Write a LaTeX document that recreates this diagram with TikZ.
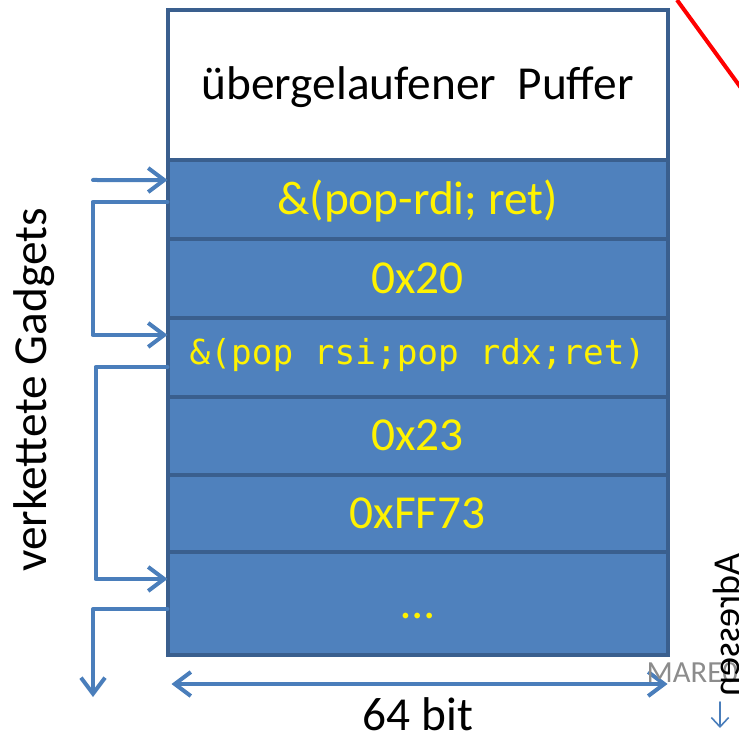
\documentclass[tikz,border=0pt]{standalone}
\usepackage{fontspec}
\setmainfont{Carlito}
\newfontfamily\monofont{DejaVu Sans Mono}
\usetikzlibrary{positioning,arrows.meta}

\definecolor{cellblue}{HTML}{4F81BD}
\definecolor{cellline}{HTML}{3A5F8E}
\definecolor{linkblue}{HTML}{4A7EBB}
\definecolor{markgray}{HTML}{8C8C8C}

\tikzset{
  cell/.style={draw=cellline, fill=cellblue, line width=3pt, outer sep=0pt,
    inner sep=0pt, minimum width=375pt, text=yellow,
    text height=26.5pt, text depth=4.5pt,
    font=\fontsize{35.5}{42}\selectfont},
  link/.style={draw=linkblue, line width=3pt, line cap=round, line join=round,
    -{Straight Barb[length=12pt,width=18pt]}},
  bigtext/.style={font=\fontsize{35.5}{42}\selectfont},
}

\begin{document}
\begin{tikzpicture}[x=0.75pt,y=-0.75pt]
  \useasboundingbox (0,0) rectangle (739,734);
  \clip (0,0) rectangle (739,734);

  % stack
  \node[cell, fill=white, text=black, minimum height=112.5pt] (puffer) at (417.5,85) {übergelaufener\ \ Puffer};
  \node[cell, minimum height=59.25pt, below=0pt of puffer] (rdi) {\&(pop-rdi; ret)};
  \node[cell, minimum height=59.25pt, below=0pt of rdi] (n20) {0x20};
  \node[cell, minimum height=59.25pt, below=0pt of n20, text height=17pt, text depth=5.8pt,
    font=\monofont\fontsize{25.8}{30}\selectfont] (rsi) {\&(pop rsi;pop rdx;ret)};
  \node[cell, minimum height=58.5pt, below=0pt of rsi] (n23) {0x23};
  \node[cell, minimum height=57.75pt, below=0pt of n23] (nff) {0xFF73};
  \node[cell, minimum height=77.25pt, below=0pt of nff] (dots) {\dots};

  % gadget chain
  \coordinate (start) at (93,180);
  \coordinate (end) at (93,697);
  \draw[link] (start) -- ([yshift=14.6pt]rdi.west);
  \draw[link] ([yshift=-1.9pt]rdi.west) -- ++(-75,0) |- ([yshift=16.9pt]rsi.west);
  \draw[link] ([yshift=-7.1pt]rsi.west) -- ++(-72,0) |- ([yshift=18.4pt]dots.west);
  \draw[link] ([yshift=-4.1pt]dots.west) -| (end);

  \node[bigtext, rotate=90, anchor=base] (chain) at (46,390) {verkettete Gadgets};

  % width
  \draw[link, {Straight Barb[length=12pt,width=18pt]}-{Straight Barb[length=12pt,width=18pt]}]
    ([shift={(3pt,-21.75pt)}]dots.south west) -- ([yshift=-21.75pt]dots.south east);
  \node[bigtext, anchor=base] (width) at (418,730) {64 bit};

  % address direction
  \node[markgray, anchor=base west, font=\fontsize{23}{27}\selectfont] (mark) at (642,682) {MARE0};
  \node[rotate=90, xscale=-1, anchor=base, font=\fontsize{28.5}{33}\selectfont] (addr) at (739,625) {Adressen};
  \coordinate (down1) at (720,702);
  \coordinate (down2) at (720,728);
  \draw[linkblue, line width=1.2pt, line cap=round, -{Straight Barb[length=7pt,width=13pt]}] (down1) -- (down2);

  \draw[red, line width=3pt] (677,0) -- (760,114);
\end{tikzpicture}
\end{document}
